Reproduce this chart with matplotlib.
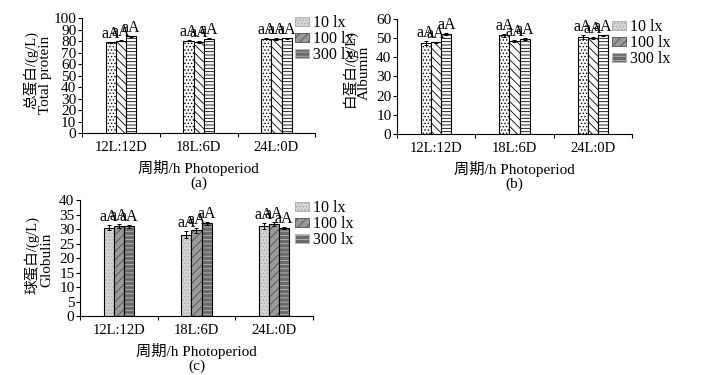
import matplotlib
matplotlib.use('Agg')
import matplotlib.pyplot as plt
import numpy as np
from matplotlib.patches import Patch

periods = ['12L:12D', '18L:6D', '24L:0D']
lights = ['10 lx', '100 lx', '300 lx']

# (a) total protein, one list per light level
total_10 = [79.0, 80.3, 82.0]
total_100 = [80.3, 79.0, 82.0]
total_300 = [84.0, 82.0, 82.3]
total_err_10 = [0.5, 0.4, 0.4]
total_err_100 = [0.5, 0.8, 0.8]
total_err_300 = [0.4, 0.4, 0.4]

# (b) albumin
alb_10 = [47.3, 51.4, 50.5]
alb_100 = [47.9, 48.6, 50.0]
alb_300 = [52.1, 49.5, 51.4]
alb_err_10 = [1.0, 0.8, 1.0]
alb_err_100 = [0.3, 0.4, 0.5]
alb_err_300 = [0.5, 0.4, 0.5]

# (c) globulin
glo_10 = [30.5, 28.0, 31.0]
glo_100 = [31.0, 29.5, 31.7]
glo_300 = [31.0, 32.0, 30.4]
glo_err_10 = [1.0, 1.2, 1.0]
glo_err_100 = [0.8, 0.8, 0.6]
glo_err_300 = [0.5, 0.5, 0.4]

letters = ['aA', 'aA', 'aA']

plt.rcParams['font.family'] = ['Liberation Serif', 'Noto Sans CJK SC']
plt.rcParams['hatch.linewidth'] = 0.6

fig = plt.figure(figsize=(7.03, 3.75), dpi=100)

white_styles = [('white', 'black', '.....'), ('white', 'black', '\\\\\\\\'), ('white', 'black', '-----')]
gray_styles = [('#d4d4d4', '#a8a8a8', '.....'), ('#9a9a9a', '#505050', '////'), ('#6a6a6a', '#b8b8b8', '----')]


def px(x, y):
    return x / 703, 1 - y / 375


def draw_panel(rect, series, errs, ylab_cn, ylab_en, ylab_x, ylab_y, yticks, tag, styles, leg_pos):
    ax = fig.add_axes(rect)
    x = np.arange(len(periods))
    w = 0.13
    for i, (vals, err) in enumerate(zip(series, errs)):
        face, hcol, hatch = styles[i]
        xs = x + (i - 1) * w
        ax.bar(xs, vals, w, color=face, edgecolor=hcol, hatch=hatch, linewidth=0)
        ax.bar(xs, vals, w, fill=False, edgecolor='black', linewidth=0.8,
               yerr=err, error_kw=dict(ecolor='black', elinewidth=0.7, capsize=1.5, capthick=0.7))
        for xi, v, e in zip(xs, vals, err):
            ax.text(xi, v + e, letters[i], ha='center', va='bottom', fontsize=11.5)
    ax.set_xlim(-0.5, 2.5)
    ax.set_ylim(yticks[0], yticks[-1])
    ax.set_yticks(yticks)
    ax.tick_params(axis='y', labelsize=11, length=3, direction='out', pad=1)
    ax.set_xticks([-0.5, 0.5, 1.5, 2.5])
    ax.set_xticklabels([])
    ax.set_xticks(x, minor=True)
    ax.set_xticklabels(periods, minor=True)
    ax.tick_params(axis='x', which='major', length=3, direction='out')
    ax.tick_params(axis='x', which='minor', length=0, labelsize=10.5, pad=6)
    for s in ['top', 'right']:
        ax.spines[s].set_visible(False)
    # two-line y label drawn as two rotated texts
    fig.text(*px(ylab_x, ylab_y), ylab_cn, rotation=90, ha='center', va='center', fontsize=10.5)
    fig.text(*px(ylab_x + 15, ylab_y + 5), ylab_en, rotation=90, ha='center', va='center', fontsize=11)
    ax.set_xlabel('周期/h Photoperiod\n(' + tag + ')', fontsize=11, linespacing=1.05, labelpad=4)
    handles = [Patch(facecolor=f, edgecolor=h, hatch=ht, linewidth=0.6) for f, h, ht in gray_styles]
    ax.legend(handles, lights, loc='upper left', bbox_to_anchor=leg_pos, bbox_transform=fig.transFigure,
              frameon=False, fontsize=11.5, handlelength=0.9, handleheight=0.55, handletextpad=0.2,
              labelspacing=0.0, borderpad=0, borderaxespad=0)
    return ax


draw_panel([0.1166, 0.6453, 0.332, 0.3067], [total_10, total_100, total_300],
           [total_err_10, total_err_100, total_err_300], '总蛋白/(g/L)', 'Total protein', 31, 70,
           np.arange(0, 101, 10), 'a', white_styles, (295 / 703, 1 - 15 / 375))
draw_panel([0.5647, 0.6427, 0.3343, 0.3067], [alb_10, alb_100, alb_300],
           [alb_err_10, alb_err_100, alb_err_300], '白蛋白/(g/L)', 'Albumin', 349, 68,
           np.arange(0, 61, 10), 'b', white_styles, (612 / 703, 1 - 19 / 375))
draw_panel([0.1138, 0.1573, 0.3314, 0.3093], [glo_10, glo_100, glo_300],
           [glo_err_10, glo_err_100, glo_err_300], '球蛋白/(g/L)', 'Globulin', 32, 255,
           np.arange(0, 41, 5), 'c', gray_styles, (295 / 703, 1 - 200 / 375))

fig.savefig('out.png', dpi=100)
